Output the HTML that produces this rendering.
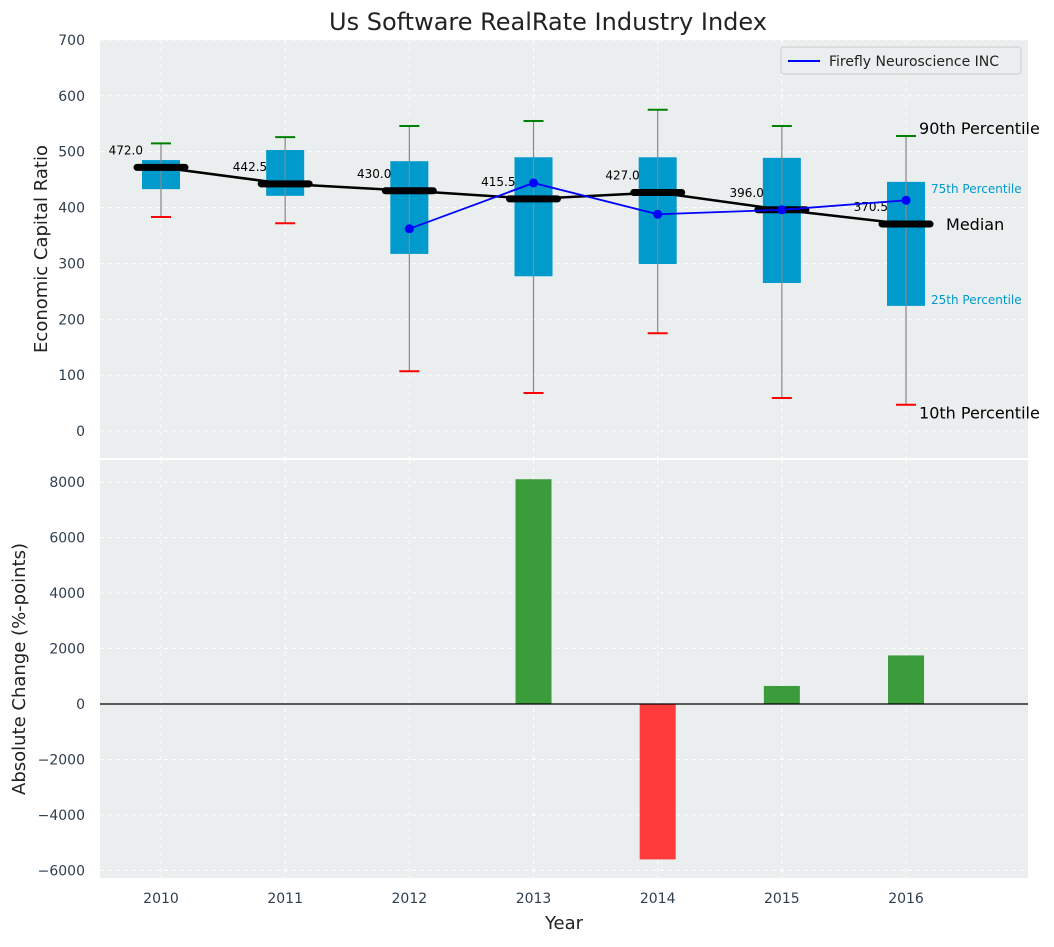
<!DOCTYPE html>
<html><head><meta charset="utf-8"><style>
body{margin:0;background:#fff;font-family:"Liberation Sans","DejaVu Sans",sans-serif}
</style></head><body>
<svg id="chart" width="1054" height="942" xmlns="http://www.w3.org/2000/svg" font-family="DejaVu Sans, Liberation Sans, sans-serif">
<rect width="1054" height="942" fill="#fff"/>
<rect x="100" y="40" width="928" height="418" fill="#eaeeee"/>
<rect x="100" y="460" width="928" height="418" fill="#eaeeee"/>
<g id="grid"></g>
<g id="marks"></g>
<text x="548" y="30" font-size="24" text-anchor="middle" fill="#222">Us Software RealRate Industry Index</text>
<text transform="translate(47,249) rotate(-90)" font-size="18" text-anchor="middle" fill="#222">Economic Capital Ratio</text>
<text transform="translate(25,669) rotate(-90)" font-size="18" text-anchor="middle" fill="#222">Absolute Change (%-points)</text>
<text x="564" y="929" font-size="18" text-anchor="middle" fill="#222">Year</text>
<g>
<rect x="781" y="47" width="240" height="27" rx="3" fill="#eaeeee" stroke="#ccc"/>
<line x1="788" y1="61" x2="820" y2="61" stroke="#0000ff" stroke-width="2"/>
<text x="829" y="66" font-size="14" fill="#222">Firefly Neuroscience INC</text>
</g>
</svg>
<script>
const years=[2010,2011,2012,2013,2014,2015,2016];
const p10=[383,372,107,68,175,59,47];
const q1=[433,421,317,277,299,265,224];
const median=[472,442.5,430,415.5,427,396,370.5];
const q3=[485,503,483,490,490,489,446];
const p90=[515,526,546,555,575,546,528];
const companyYears=[2012,2013,2014,2015,2016];
const companyVals=[362,444,388,396,413];
const changeYears=[2013,2014,2015,2016];
const changeVals=[8100,-5600,650,1750];
const topTicks=[0,100,200,300,400,500,600,700];
const botTicks=[-6000,-4000,-2000,0,2000,4000,6000,8000];

const NS="http://www.w3.org/2000/svg";
const X=y=>161+(y-2010)*124.17;
const YT=v=>431-v*0.5586;
const YB=v=>704-v*0.02775;
const grid=document.getElementById('grid'),marks=document.getElementById('marks');
function mk(t,a,p){const e=document.createElementNS(NS,t);for(const k in a)e.setAttribute(k,a[k]);(p||marks).appendChild(e);return e;}
topTicks.forEach(v=>{const y=YT(v);
 const l=mk('line',{x1:100,x2:1028,y1:y,y2:y,stroke:'#fff','stroke-dasharray':'4,4'},grid);
 
 
 const t=mk('text',{x:85,y:y+5,'font-size':14,'text-anchor':'end',fill:'#2e3f50'},grid);t.textContent=v;
 
 });
botTicks.forEach(v=>{const y=YB(v);
 const l=mk('line',{x1:100,x2:1028,y1:y,y2:y,stroke:'#fff','stroke-dasharray':'4,4'},grid);
 
 
 const t=mk('text',{x:85,y:y+5,'font-size':14,'text-anchor':'end',fill:'#2e3f50'},grid);t.textContent=v<0?'\u2212'+(-v):v;
 
 });
years.forEach(yr=>{const x=X(yr);
 [[40,458],[460,878]].forEach(r=>{const l=mk('line',{x1:x,x2:x,y1:r[0],y2:r[1],stroke:'#fff','stroke-dasharray':'4,4'},grid);
 
 });
 const t=mk('text',{x:x,y:903,'font-size':14,'text-anchor':'middle',fill:'#2e3f50'},grid);t.textContent=yr;
 
 });
years.forEach((yr,i)=>{const x=X(yr);
 const b=mk('rect',{x:x-19,y:YT(q3[i]),width:38,height:YT(q1[i])-YT(q3[i]),fill:'#009ACD'});
 
 
 const w=mk('line',{x1:x,x2:x,y1:YT(p90[i]),y2:YT(p10[i]),stroke:'#888','stroke-width':1.2});
 
 
 const c1=mk('line',{x1:x-10,x2:x+10,y1:YT(p90[i]),y2:YT(p90[i]),stroke:'green','stroke-width':2});
 
 
 const c2=mk('line',{x1:x-10,x2:x+10,y1:YT(p10[i]),y2:YT(p10[i]),stroke:'red','stroke-width':2});
 
 
});
const mp=years.map((y,i)=>X(y)+','+YT(median[i])).join(' ');
const ml=mk('polyline',{points:mp,fill:'none',stroke:'#000','stroke-width':2.5});


years.forEach((yr,i)=>{const x=X(yr),y=YT(median[i]);
 const m=mk('line',{x1:x-24,x2:x+24,y1:y,y2:y,stroke:'#000','stroke-width':7,'stroke-linecap':'round'});
 
 
 const t=mk('text',{x:x-18,y:y-13,'font-size':12,'text-anchor':'end',fill:'#000'});t.textContent=median[i].toFixed(1);
 
 });
const cp=companyYears.map((y,i)=>X(y)+','+YT(companyVals[i])).join(' ');
const cl=mk('polyline',{points:cp,fill:'none',stroke:'#0000ff','stroke-width':1.8});


companyYears.forEach((yr,i)=>{const d=mk('circle',{cx:X(yr),cy:YT(companyVals[i]),r:4.5,fill:'#0000ff'});
 
 });
const li=years.length-1,lx=X(years[li]);
[[p90[li],'90th Percentile',16,'#000',-2,13],[q3[li],'75th Percentile',12,'#009ACD',11,25],[median[li],'Median',16,'#000',6,40],[q1[li],'25th Percentile',12,'#009ACD',-2,25],[p10[li],'10th Percentile',16,'#000',14,13]].forEach(a=>{
 const t=mk('text',{x:lx+a[5],y:YT(a[0])+a[4],'font-size':a[2],fill:a[3]});t.textContent=a[1];
 
 });
changeYears.forEach((yr,i)=>{const v=changeVals[i],x=X(yr);
 const r=mk('rect',{x:x-18,y:Math.min(YB(v),YB(0)),width:36,height:Math.abs(YB(v)-YB(0)),fill:v>=0?'#3a9c3a':'#ff3b3b'});
 
 });
const z=mk('line',{x1:100,x2:1028,y1:YB(0),y2:YB(0),stroke:'#000','stroke-width':1.2});


</script>
</body></html>
